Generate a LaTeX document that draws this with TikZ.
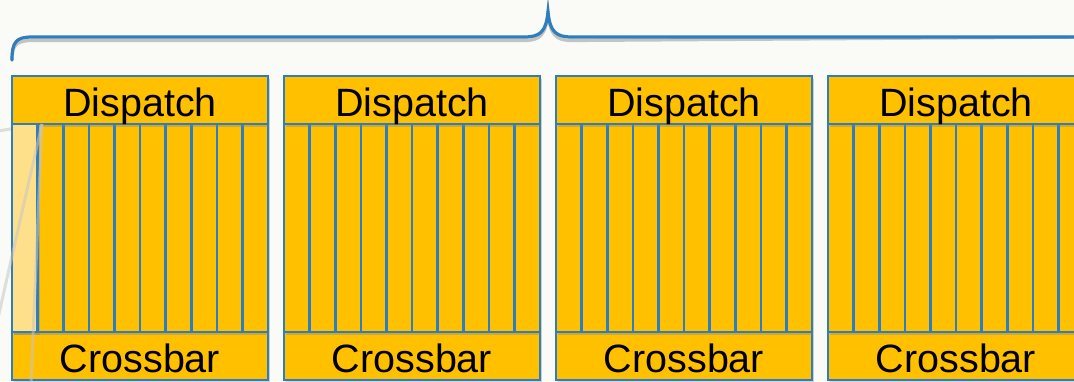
\documentclass[tikz,border=0pt]{standalone}
\usepackage{fontspec}
\setmainfont{Liberation Sans}
\usetikzlibrary{shadows}
\definecolor{slotfill}{RGB}{255,192,0}
\definecolor{slotpale}{RGB}{255,224,138}
\definecolor{edgeblue}{RGB}{46,125,190}
\definecolor{paper}{RGB}{250,250,246}
\tikzset{soft/.style={drop shadow={shadow xshift=2pt,shadow yshift=-2.5pt,opacity=.35}}}

\begin{document}
\begin{tikzpicture}[x=1pt,y=-1pt,font=\fontsize{39.5}{40}\selectfont]

\tikzset{unitbox/.style={soft,fill=slotfill,draw=edgeblue,line width=2.6pt,inner sep=0pt,minimum width=256pt,minimum height=48pt,text height=32pt,text depth=0pt},
lane/.style={soft,fill=slotfill,draw=edgeblue,line width=2.6pt,inner sep=0pt,minimum width=25.6pt,minimum height=208pt},
zoomline/.style={line width=3pt,gray!45,opacity=.55}}

% Page
\useasboundingbox (0,0) rectangle (1074,381);
\fill[paper] (0,0) rectangle (1074,381);

% Callout lines behind the first block
\coordinate (c0) at (42,124);
\coordinate (cl) at (-2,131);
\draw[zoomline] (c0) -- (cl);

% Blocks: crossbar, lanes, dispatch (bottom up so shadows fall right)
\foreach \i in {1,2,3,4} {
  \pgfmathsetmacro{\xo}{272*(\i-1)}
  \node[unitbox] (xbar\i) at (140+\xo,356) {Crossbar};
  \foreach \j in {1,...,10}
    \node[lane] (lane\i\j) at (12+\xo+25.6*\j-12.8,228) {};
  \node[unitbox] (disp\i) at (140+\xo,100) {Dispatch};
}

% Highlighted lane
\node[lane,fill=slotpale,drop shadow={opacity=0}] (hl) at (lane11) {};

% Callout lines over the highlighted lane
\coordinate (cb) at (-2,318);
\coordinate (cd) at (31,383);
\draw[zoomline] (c0) -- (cb);
\draw[zoomline] (c0) -- (cd);

% Brace over all blocks, with its shadow
\coordinate (bl) at (12,60);
\coordinate (bt) at (548,12);
\coordinate (br) at (1090,37);
\foreach \dy/\col/\op in {3.5/black/.22,0/edgeblue/1}
  \draw[\col,opacity=\op,line width=3.2pt,line cap=round,yshift=-\dy pt]
    (bl) .. controls (12,42) and (16,37) .. (32,37) -- (524,37)
    .. controls (540,37) and (546,32) .. (bt)
    .. controls (550,32) and (556,37) .. (572,37) -- (br);

\end{tikzpicture}
\end{document}
